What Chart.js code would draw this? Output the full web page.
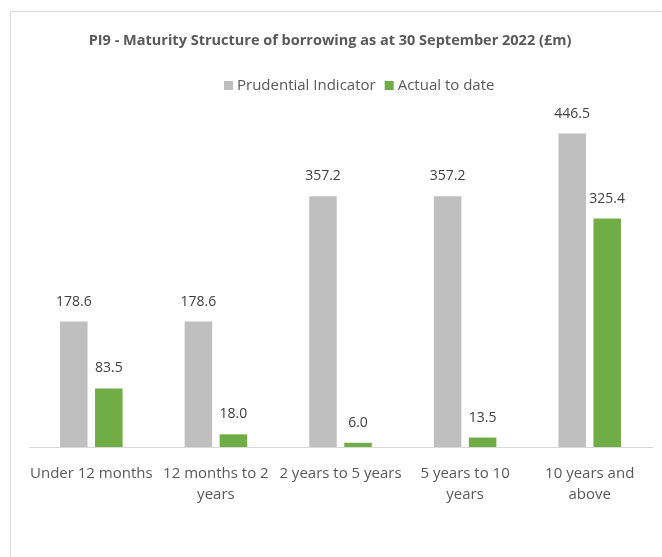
<!DOCTYPE html>
<html>
<head>
<meta charset="utf-8">
<script src="https://cdn.jsdelivr.net/npm/chart.js@4/dist/chart.umd.min.js"></script>
<style>
  body { margin: 0; background: #fff; }
  canvas { display: block; }
</style>
</head>
<body>
<canvas id="chart1" width="662" height="557"></canvas>
<script>
const titleText = 'PI9 - Maturity Structure of borrowing as at 30 September 2022 (£m)';
const categories = [
  'Under 12 months',
  ['12 months to 2', 'years'],
  '2 years to 5 years',
  ['5 years to 10', 'years'],
  ['10 years and', 'above'],
];
const seriesNames = ['Prudential Indicator', 'Actual to date'];
const prudentialIndicator = [178.6, 178.6, 357.2, 357.2, 446.5];
const actualToDate = [83.5, 18.0, 6.0, 13.5, 325.4];
const seriesColors = ['#bfbfbf', '#70ad47'];

const fontFamily = "'Open Sans', sans-serif";
const textColor = '#595959';

// frame, title, legend and the value labels are drawn by hand
const decorations = {
  id: 'decorations',
  beforeDraw(chart) {
    const ctx = chart.ctx;
    ctx.save();
    ctx.strokeStyle = '#d9d9d9';
    ctx.lineWidth = 1;
    ctx.strokeRect(10.5, 11.5, 700, 600);
    ctx.restore();
  },
  afterDatasetsDraw(chart) {
    const ctx = chart.ctx;
    ctx.save();
    // title
    ctx.fillStyle = textColor;
    ctx.font = 'bold 14.5px ' + fontFamily;
    ctx.textAlign = 'center';
    ctx.textBaseline = 'middle';
    ctx.fillText(titleText, 330, 41);

    // legend
    ctx.font = '15px ' + fontFamily;
    ctx.textAlign = 'left';
    let x = 224;
    chart.data.datasets.forEach((ds, i) => {
      ctx.fillStyle = ds.backgroundColor;
      ctx.fillRect(x, 81, 9, 9);
      x += 13;
      ctx.fillStyle = textColor;
      ctx.fillText(ds.label, x, 85.5);
      x += ctx.measureText(ds.label).width + 9;
    });

    // values above bars
    ctx.font = '14px ' + fontFamily;
    ctx.textAlign = 'center';
    ctx.fillStyle = '#404040';
    chart.data.datasets.forEach((ds, i) => {
      chart.getDatasetMeta(i).data.forEach((bar, j) => {
        ctx.fillText(ds.data[j].toFixed(1), bar.x, bar.y - 20);
      });
    });
    ctx.restore();
  },
};

const ctx = document.getElementById('chart1').getContext('2d');
new Chart(ctx, {
  type: 'bar',
  data: {
    labels: categories,
    datasets: [
      {
        label: seriesNames[0],
        data: prudentialIndicator,
        backgroundColor: seriesColors[0],
      },
      {
        label: seriesNames[1],
        data: actualToDate,
        backgroundColor: seriesColors[1],
      },
    ],
  },
  options: {
    responsive: false,
    animation: false,
    categoryPercentage: 0.562,
    barPercentage: 0.786,
    layout: {
      padding: { left: 29, right: 10, top: 96, bottom: 0 },
    },
    plugins: {
      legend: { display: false },
      title: { display: false },
      tooltip: { enabled: false },
    },
    scales: {
      x: {
        grid: { display: false },
        border: { display: true, color: '#d9d9d9', width: 1 },
        ticks: {
          color: textColor,
          font: { family: fontFamily, size: 15, lineHeight: 1.4 },
          padding: 8,
          maxRotation: 0,
          autoSkip: false,
        },
        afterFit(scale) {
          scale.height = 110;
        },
      },
      y: {
        display: false,
        min: 0,
        max: 500,
      },
    },
  },
  plugins: [decorations],
});
</script>
</body>
</html>
